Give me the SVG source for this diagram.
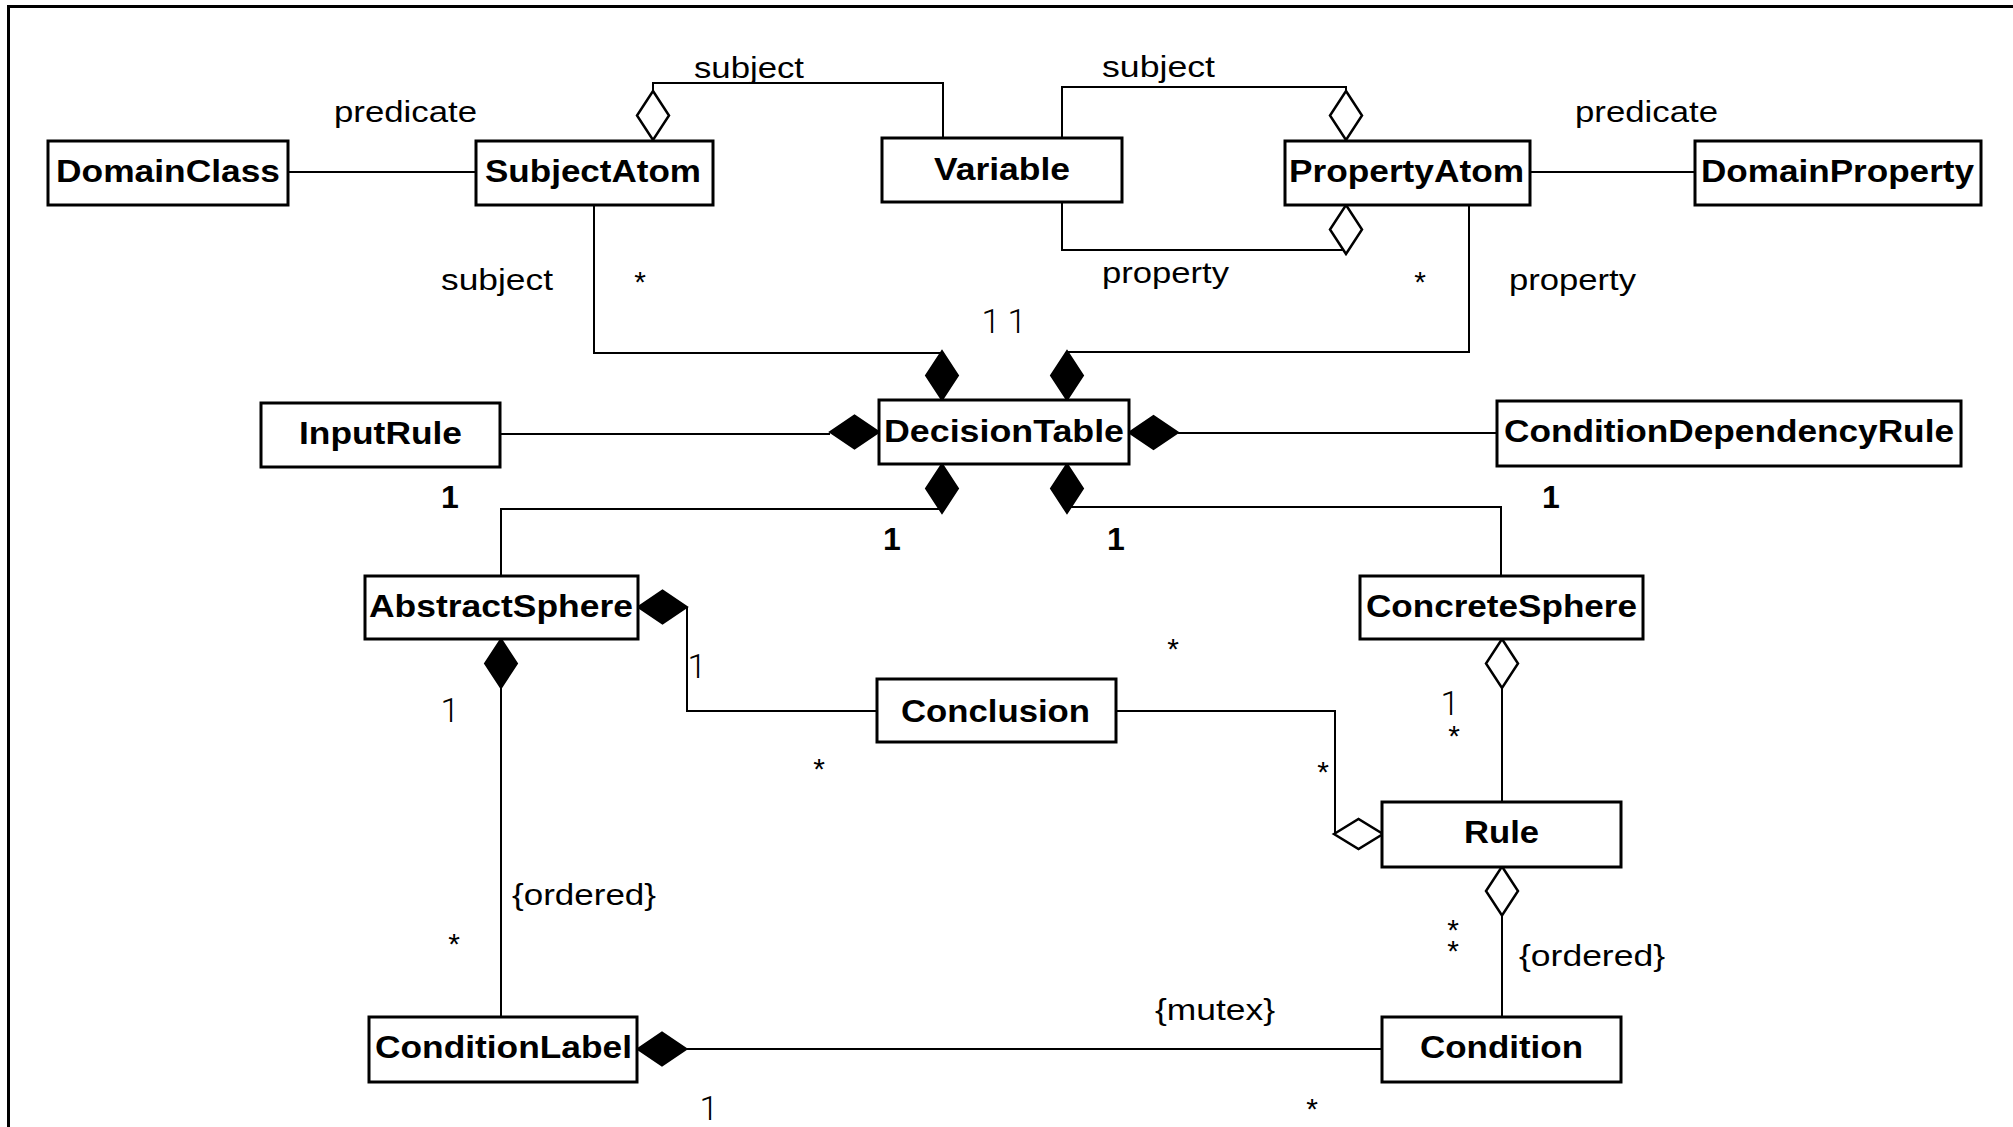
<svg xmlns="http://www.w3.org/2000/svg" xmlns:xlink="http://www.w3.org/1999/xlink" width="2013" height="1127" viewBox="0 0 2013 1127">
  <style>
    .box { fill: #fff; stroke: #000; stroke-width: 3; }
    .name { font-family: "Liberation Sans", Arial, sans-serif; font-weight: bold; font-size: 32px; fill: #000; }
    .lbl { font-family: "Liberation Sans", Arial, sans-serif; font-size: 30px; fill: #000; }
    .mult { font-family: "Liberation Sans", Arial, sans-serif; font-weight: bold; font-size: 32px; fill: #000; text-anchor: middle; }
    .thin { font-family: Roboto, "Liberation Sans", sans-serif; font-weight: 300; font-size: 34px; fill: #000; text-anchor: middle; }
    .star { font-family: "Liberation Sans", Arial, sans-serif; font-size: 30px; fill: #000; text-anchor: middle; }
    .line { fill: none; stroke: #000; stroke-width: 2; }
    .comp { fill: #000; stroke: #000; stroke-width: 2; }
    .agg { fill: #fff; stroke: #000; stroke-width: 2.5; }
  </style>
  <defs>
    <!-- diamonds centred on the origin: vertical and horizontal -->
    <path id="dv" d="M0,-24.5 L16,0 L0,24.5 L-16,0 Z"/>
    <path id="dh" d="M-24.5,0 L0,-16.5 L24.5,0 L0,16.5 Z"/>
    <path id="dhs" d="M-24.5,0 L0,-15 L24.5,0 L0,15 Z"/>
  </defs>

  <rect x="0" y="0" width="2013" height="1127" fill="#fff"/>
  <!-- frame -->
  <rect x="8.5" y="6.5" width="2100" height="1200" fill="none" stroke="#000" stroke-width="3"/>

  <g id="connectors">
    <path class="line" d="M288,172 H476"/>
    <path class="line" d="M653,91 V83 H943 V138"/>
    <path class="line" d="M1062,138 V87 H1346 V91"/>
    <path class="line" d="M1062,202 V250 H1346 V254"/>
    <path class="line" d="M1530,172 H1695"/>
    <path class="line" d="M594,205 V353 H942"/>
    <path class="line" d="M1469,205 V352 H1067"/>
    <path class="line" d="M500,434 H830"/>
    <path class="line" d="M1178,433 H1497"/>
    <path class="line" d="M942,509 H501 V576"/>
    <path class="line" d="M1067,507 H1501 V576"/>
    <path class="line" d="M687,607 V711 H877"/>
    <path class="line" d="M501,688 V1017"/>
    <path class="line" d="M1116,711 H1335 V834"/>
    <path class="line" d="M1502,688 V802"/>
    <path class="line" d="M1502,915 V1017"/>
    <path class="line" d="M687,1049 H1382"/>

    <!-- composition ends -->
    <use xlink:href="#dv" class="comp" x="942" y="375.5"/>
    <use xlink:href="#dv" class="comp" x="1067" y="375.5"/>
    <use xlink:href="#dh" class="comp" x="854.5" y="432"/>
    <use xlink:href="#dh" class="comp" x="1153.5" y="432.5"/>
    <use xlink:href="#dv" class="comp" x="942" y="488.5"/>
    <use xlink:href="#dv" class="comp" x="1067" y="488.5"/>
    <use xlink:href="#dh" class="comp" x="662.5" y="607"/>
    <use xlink:href="#dv" class="comp" x="501" y="663.5"/>
    <use xlink:href="#dh" class="comp" x="662" y="1049"/>

    <!-- aggregation ends -->
    <use xlink:href="#dv" class="agg" x="653" y="115.5"/>
    <use xlink:href="#dv" class="agg" x="1346" y="115.5"/>
    <use xlink:href="#dv" class="agg" x="1346" y="229.5"/>
    <use xlink:href="#dv" class="agg" x="1502" y="663.5"/>
    <use xlink:href="#dhs" class="agg" x="1358.5" y="834"/>
    <use xlink:href="#dv" class="agg" x="1502" y="891"/>

    <!-- role names and constraints -->
    <text class="lbl" x="334" y="122" textLength="143" lengthAdjust="spacingAndGlyphs">predicate</text>
    <text class="lbl" x="694" y="78" textLength="110" lengthAdjust="spacingAndGlyphs">subject</text>
    <text class="lbl" x="1102" y="77" textLength="113" lengthAdjust="spacingAndGlyphs">subject</text>
    <text class="lbl" x="1575" y="122" textLength="143" lengthAdjust="spacingAndGlyphs">predicate</text>
    <text class="lbl" x="441" y="290" textLength="112" lengthAdjust="spacingAndGlyphs">subject</text>
    <text class="lbl" x="1102" y="283" textLength="127" lengthAdjust="spacingAndGlyphs">property</text>
    <text class="lbl" x="1509" y="290" textLength="127" lengthAdjust="spacingAndGlyphs">property</text>
    <text class="lbl" x="512" y="905" textLength="144" lengthAdjust="spacingAndGlyphs">{ordered}</text>
    <text class="lbl" x="1519" y="966" textLength="146" lengthAdjust="spacingAndGlyphs">{ordered}</text>
    <text class="lbl" x="1155" y="1020" textLength="120" lengthAdjust="spacingAndGlyphs">{mutex}</text>

    <!-- multiplicities -->
    <text class="star" x="640" y="292">*</text>
    <text class="star" x="1420" y="292">*</text>
    <text class="star" x="819" y="779">*</text>
    <text class="star" x="1173" y="659">*</text>
    <text class="star" x="1454" y="746">*</text>
    <text class="star" x="1323" y="782">*</text>
    <text class="star" x="454" y="954">*</text>
    <text class="star" x="1453" y="940">*</text>
    <text class="star" x="1453" y="961">*</text>
    <text class="star" x="1312" y="1119">*</text>

    <text class="mult" x="450" y="508">1</text>
    <text class="mult" x="892" y="550">1</text>
    <text class="mult" x="1116" y="550">1</text>
    <text class="mult" x="1551" y="508">1</text>

    <text class="thin" x="991" y="333">1</text>
    <text class="thin" x="1017" y="333">1</text>
    <text class="thin" x="697" y="678">1</text>
    <text class="thin" x="450" y="722">1</text>
    <text class="thin" x="1450" y="715">1</text>
    <text class="thin" x="709" y="1120">1</text>
  </g>

  <g id="DomainClass">
    <rect class="box" x="48" y="141" width="240" height="64"/>
    <text class="name" x="56" y="182" textLength="224" lengthAdjust="spacingAndGlyphs">DomainClass</text>
  </g>
  <g id="SubjectAtom">
    <rect class="box" x="476" y="141" width="237" height="64"/>
    <text class="name" x="485" y="182" textLength="216" lengthAdjust="spacingAndGlyphs">SubjectAtom</text>
  </g>
  <g id="Variable">
    <rect class="box" x="882" y="138" width="240" height="64"/>
    <text class="name" x="934" y="180" textLength="136" lengthAdjust="spacingAndGlyphs">Variable</text>
  </g>
  <g id="PropertyAtom">
    <rect class="box" x="1285" y="141" width="245" height="64"/>
    <text class="name" x="1289" y="182" textLength="235" lengthAdjust="spacingAndGlyphs">PropertyAtom</text>
  </g>
  <g id="DomainProperty">
    <rect class="box" x="1695" y="141" width="286" height="64"/>
    <text class="name" x="1701" y="182" textLength="273" lengthAdjust="spacingAndGlyphs">DomainProperty</text>
  </g>
  <g id="InputRule">
    <rect class="box" x="261" y="403" width="239" height="64"/>
    <text class="name" x="299" y="444" textLength="163" lengthAdjust="spacingAndGlyphs">InputRule</text>
  </g>
  <g id="DecisionTable">
    <rect class="box" x="879" y="400" width="250" height="64"/>
    <text class="name" x="884" y="442" textLength="240" lengthAdjust="spacingAndGlyphs">DecisionTable</text>
  </g>
  <g id="ConditionDependencyRule">
    <rect class="box" x="1497" y="401" width="464" height="65"/>
    <text class="name" x="1504" y="442" textLength="450" lengthAdjust="spacingAndGlyphs">ConditionDependencyRule</text>
  </g>
  <g id="AbstractSphere">
    <rect class="box" x="365" y="576" width="273" height="63"/>
    <text class="name" x="369" y="617" textLength="264" lengthAdjust="spacingAndGlyphs">AbstractSphere</text>
  </g>
  <g id="ConcreteSphere">
    <rect class="box" x="1360" y="576" width="283" height="63"/>
    <text class="name" x="1366" y="617" textLength="271" lengthAdjust="spacingAndGlyphs">ConcreteSphere</text>
  </g>
  <g id="Conclusion">
    <rect class="box" x="877" y="679" width="239" height="63"/>
    <text class="name" x="901" y="722" textLength="189" lengthAdjust="spacingAndGlyphs">Conclusion</text>
  </g>
  <g id="Rule">
    <rect class="box" x="1382" y="802" width="239" height="65"/>
    <text class="name" x="1464" y="843" textLength="75" lengthAdjust="spacingAndGlyphs">Rule</text>
  </g>
  <g id="ConditionLabel">
    <rect class="box" x="369" y="1017" width="268" height="65"/>
    <text class="name" x="375" y="1058" textLength="257" lengthAdjust="spacingAndGlyphs">ConditionLabel</text>
  </g>
  <g id="Condition">
    <rect class="box" x="1382" y="1017" width="239" height="65"/>
    <text class="name" x="1420" y="1058" textLength="163" lengthAdjust="spacingAndGlyphs">Condition</text>
  </g>
</svg>
